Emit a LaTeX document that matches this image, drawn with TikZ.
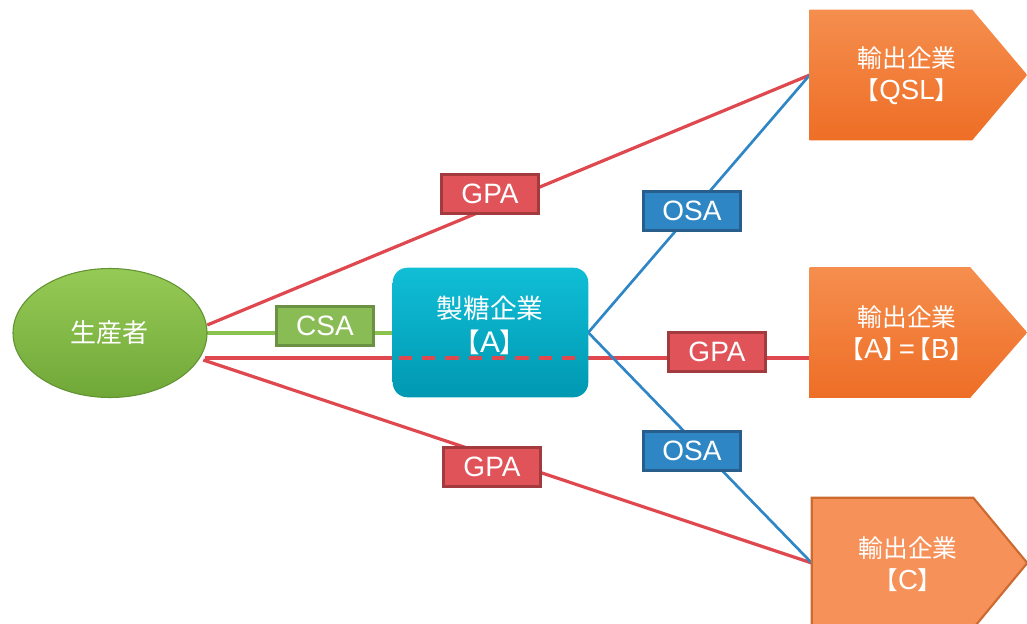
\documentclass[tikz,border=0pt]{standalone}
\usepackage{fontspec}
\setmainfont{Liberation Sans}
\newfontfamily\cjk{Noto Sans CJK JP}
\newfontfamily\latf{Liberation Sans}[Scale=1.12]
\newcommand\lat[1]{{\latf #1}}
\usetikzlibrary{shapes.geometric,calc}
\definecolor{redl}{RGB}{222,72,78}
\definecolor{redf}{RGB}{224,84,89}
\definecolor{redd}{RGB}{163,58,62}
\definecolor{bluel}{RGB}{46,134,198}
\definecolor{bluef}{RGB}{46,134,196}
\definecolor{blued}{RGB}{40,94,140}
\definecolor{greenl}{RGB}{139,194,80}
\definecolor{greenf}{RGB}{138,188,86}
\definecolor{greend}{RGB}{106,146,66}
\definecolor{ellt}{RGB}{150,202,86}
\definecolor{ellb}{RGB}{112,168,56}
\definecolor{elld}{RGB}{98,146,50}
\definecolor{cyant}{RGB}{16,190,214}
\definecolor{cyanb}{RGB}{0,152,178}
\definecolor{orat}{RGB}{245,142,78}
\definecolor{orab}{RGB}{238,110,38}
\definecolor{orac}{RGB}{246,145,90}
\definecolor{orad}{RGB}{204,106,48}
\tikzset{
  lbl/.style={draw, line width=2.25pt, minimum width=97*0.75pt, minimum height=39*0.75pt,
    inner sep=0pt, text=white, font=\fontsize{21}{23}\selectfont},
  gpa/.style={lbl, fill=redf, draw=redd},
  osa/.style={lbl, fill=bluef, draw=blued},
  csa/.style={lbl, fill=greenf, draw=greend},
  redline/.style={draw=redl, line width=2.4pt},
  blueline/.style={draw=bluel, line width=2pt},
  greenline/.style={draw=greenl, line width=2.4pt},
  exframe/.style={inner sep=0pt, minimum width=217*0.75pt, minimum height=130*0.75pt},
  extext/.style={text=white, align=center, font=\cjk\fontsize{18.5}{24}\selectfont},
}
\begin{document}
\begin{tikzpicture}[x=0.75pt,y=-0.75pt]
\useasboundingbox (0,0) rectangle (1027,624);
% frames
\node[ellipse, minimum width=194*0.75pt, minimum height=129*0.75pt, inner sep=0pt] (p) at (110,333) {};
\node[inner sep=0pt, minimum width=195*0.75pt, minimum height=129*0.75pt] (s) at (490.5,332.5) {};
\node[exframe] (e1) at (918.5,75) {};
\node[exframe] (e2) at (918.5,332.5) {};
\node[exframe, minimum width=215*0.75pt] (e3) at (919.5,563) {};
% connection points
\coordinate (pa) at ($(p.east)+(0,-8)$);
\coordinate (pg) at (p.east);
\coordinate (pb) at ($(p.east)+(-2,25)$);
\coordinate (pc) at ($(p.east)+(-4,27)$);
\coordinate (sg) at ($(s.west)+(0,0.5)$);
\coordinate (sl) at ($(s.west)+(0,25.5)$);
\coordinate (sr) at ($(s.east)+(0,25.5)$);
\coordinate (e2r) at ($(e2.west)+(0,25.5)$);
% connectors
\draw[redline] (pa) -- (e1.west);
\draw[redline] (pc) -- (e3.west);
\draw[redline] (pb) -- (sl);
\draw[redline] (sr) -- (e2r);
\draw[greenline] (pg) -- (sg);
\draw[blueline] (s.east) -- (e1.west);
\draw[blueline] (s.east) -- (e3.west);
% producer
\shade[top color=ellt, bottom color=ellb, draw=elld, line width=0.8pt]
  (p.center) ellipse [x radius=97, y radius=64.5];
\node[text=white, font=\cjk\fontsize{19.5}{22}\selectfont] (pt) at (109,333) {生産者};
% sugar company
\shade[top color=cyant, bottom color=cyanb, rounded corners=11pt]
  (s.north west) rectangle (s.south east);
\draw[redl, line width=2.4pt, dash pattern=on 10pt off 7.5pt] ($(sl)+(6,0)$) -- ($(sr)+(-4,0)$);
\node[text=white, align=center, font=\cjk\fontsize{20}{25.5}\selectfont] (st) at (490,325) {製糖企業\\【\lat{A}】};
% export companies
\shade[top color=orat, bottom color=orab]
  (e1.north west) -- ($(e1.north east)+(-55,0)$) -- (e1.east) -- ($(e1.south east)+(-55,0)$) -- (e1.south west) -- cycle;
\node[extext] (e1t) at (907,76) {輸出企業\\【\lat{QSL}】};
\shade[top color=orat, bottom color=orab]
  (e2.north west) -- ($(e2.north east)+(-57,0)$) -- (e2.east) -- ($(e2.south east)+(-57,0)$) -- (e2.south west) -- cycle;
\node[extext] (e2t) at (907,333) {輸出企業\\【\lat{A}】\kern-0.35em\lat{=}\kern-0.35em【\lat{B}】};
\filldraw[fill=orac, draw=orad, line width=1.6pt, line join=miter]
  (e3.north west) -- ($(e3.north east)+(-54,0)$) -- (e3.east) -- ($(e3.south east)+(-54,0)$) -- (e3.south west) -- cycle;
\node[extext] (e3t) at (908,564) {輸出企業\\【\lat{C}】};
% labels
\node[gpa] (g1) at (490,194) {GPA};
\node[gpa] (g2) at (717,352) {GPA};
\node[gpa] (g3) at (492,467) {GPA};
\node[osa] (o1) at (692,211) {OSA};
\node[osa] (o2) at (692,451) {OSA};
\node[csa] (c1) at (325,326) {CSA};
\end{tikzpicture}
\end{document}
